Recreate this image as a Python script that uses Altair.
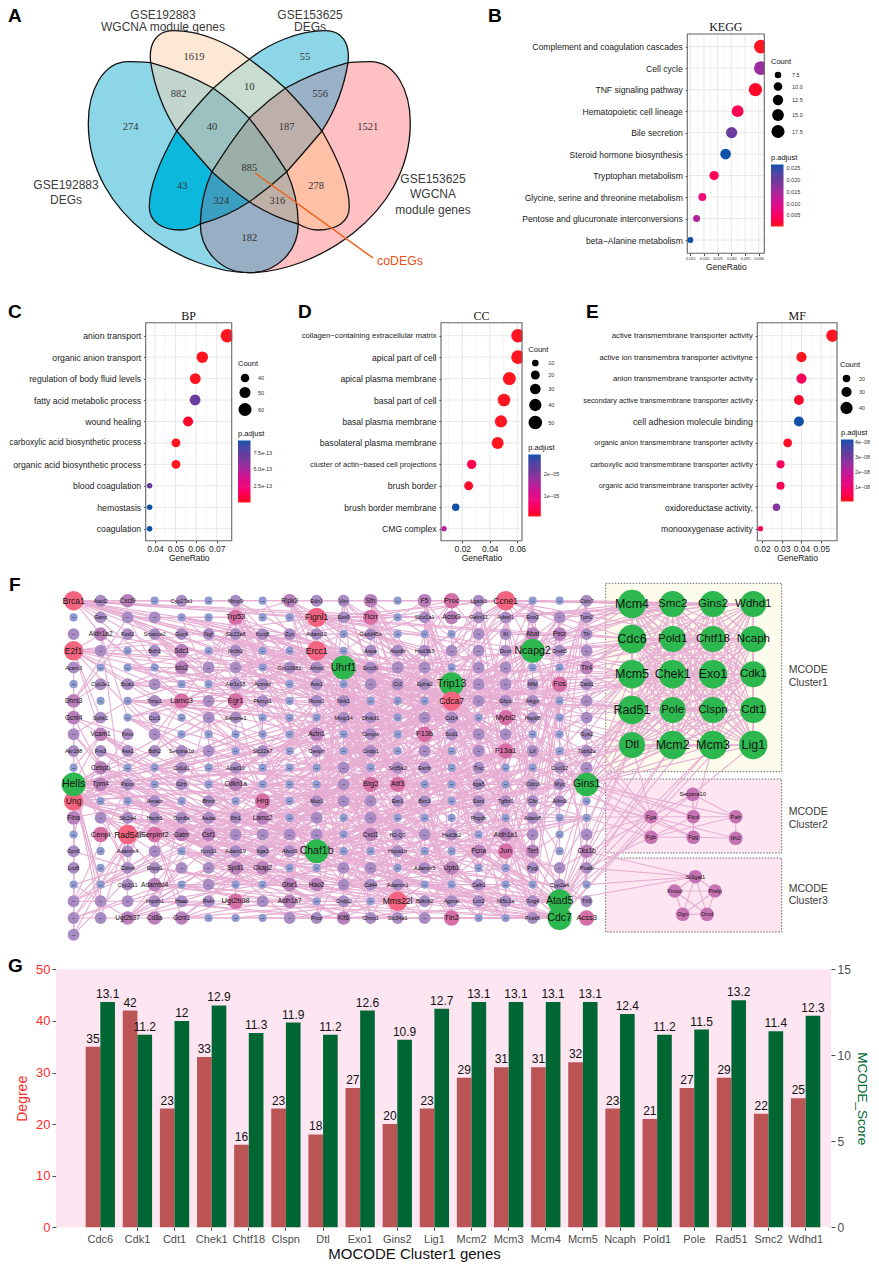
import itertools
import math
import altair as alt
import pandas as pd

W, H = 863, 1255
SANS, SERIF = "Liberation Sans", "Liberation Serif"
PADJ_COLORS = ["#ff1a1a", "#f0107a", "#b81f9a", "#6a3a9c", "#0a50aa"]

# ---------- dot plot data ----------
KEGG_TERMS = ["Complement and coagulation cascades", "Cell cycle", "TNF signaling pathway", "Hematopoietic cell lineage",
              "Bile secretion", "Steroid hormone biosynthesis", "Tryptophan metabolism",
              "Glycine, serine and threonine metabolism ", "Pentose and glucuronate interconversions", "beta\u2212Alanine metabolism"]
KEGG_RATIO = [0.0408, 0.0408, 0.0388, 0.0323, 0.0301, 0.0279, 0.0237, 0.0194, 0.0173, 0.0150]
KEGG_COUNT = [19, 19, 18, 15, 14, 13, 11, 9, 8, 7]
KEGG_PADJ = [0.0004, 0.016, 0.001, 0.0035, 0.020, 0.0267, 0.004, 0.0065, 0.014, 0.0267]

BP_TERMS = ["anion transport", "organic anion transport", "regulation of body fluid levels", "fatty acid metabolic process",
            "wound healing", "carboxylic acid biosynthetic process", "organic acid biosynthetic process",
            "blood coagulation", "hemostasis", "coagulation"]
BP_RATIO = [0.0752, 0.0630, 0.0596, 0.0595, 0.0561, 0.0502, 0.0502, 0.0374, 0.0374, 0.0374]
BP_COUNT = [62, 52, 49, 49, 46, 41, 41, 31, 31, 31]
BP_PADJ = [0.2e-13, 0.2e-13, 0.2e-13, 7.0e-13, 0.4e-13, 0.2e-13, 0.2e-13, 7.2e-13, 9.3e-13, 9.3e-13]

CC_TERMS = ["collagen\u2212containing extracellular matrix", "apical part of cell", "apical plasma membrane", "basal part of cell",
            "basal plasma membrane", "basolateral plasma membrane", "cluster of actin\u2212based cell projections",
            "brush border", "brush border membrane", "CMG complex"]
CC_RATIO = [0.0605, 0.0605, 0.0542, 0.0503, 0.0481, 0.0457, 0.0268, 0.0246, 0.0152, 0.0067]
CC_COUNT = [50, 50, 45, 42, 40, 38, 22, 20, 13, 5]
CC_PADJ = [0.05e-5, 0.05e-5, 0.05e-5, 0.05e-5, 0.05e-5, 0.05e-5, 0.35e-5, 0.1e-5, 2.9e-5, 1.5e-5]

MF_TERMS = ["active transmembrane transporter activity", "active ion transmembra transporter activityne",
            "anion transmembrane transporter activity", "secondary active transmembrane transporter activity",
            "cell adhesion molecule binding", "organic anion transmembrane transporter activity",
            "carboxylic acid transmembrane transporter activity", "organic acid transmembrane transporter activity",
            "oxidoreductase activity,", "monooxygenase activity"]
MF_RATIO = [0.0557, 0.0400, 0.0400, 0.0387, 0.0387, 0.0330, 0.0294, 0.0294, 0.0273, 0.0192]
MF_COUNT = [41, 30, 30, 29, 29, 24, 22, 22, 20, 14]
MF_PADJ = [0.1e-8, 0.1e-8, 0.7e-8, 0.2e-8, 4.15e-8, 0.15e-8, 0.7e-8, 0.6e-8, 2.8e-8, 0.7e-8]

# per-term label sizes (the reference squeezes some labels)
KEGG_FONT = [8.6] * 10
BP_FONT = [8.7, 8.7, 8.7, 8.7, 8.7, 8.3, 8.7, 8.7, 8.7, 8.7]
CC_FONT = [7.7, 8.6, 8.6, 8.6, 8.6, 8.7, 7.6, 8.6, 8.6, 8.6]
MF_FONT = [7.7, 7.7, 7.7, 7.3, 8.8, 7.3, 7.3, 7.3, 8.5, 8.6]

# ---------- bar chart data ----------
G_GENES = ["Cdc6", "Cdk1", "Cdt1", "Chek1", "Chtf18", "Clspn", "Dtl", "Exo1", "Gins2", "Lig1", "Mcm2", "Mcm3", "Mcm4",
           "Mcm5", "Ncaph", "Pold1", "Pole", "Rad51", "Smc2", "Wdhd1"]
G_DEGREE = [35, 42, 23, 33, 16, 23, 18, 27, 20, 23, 29, 31, 31, 32, 23, 21, 27, 29, 22, 25]
G_SCORE = [13.1, 11.2, 12, 12.9, 11.3, 11.9, 11.2, 12.6, 10.9, 12.7, 13.1, 13.1, 13.1, 13.1, 12.4, 11.2, 11.5, 13.2, 11.4, 12.3]

# ---------- venn text ----------
VENN_COUNTS = ["1619", "55", "882", "10", "556", "274", "40", "187", "1521", "885", "43", "278", "324", "316", "182"]
VENN_COUNT_X = [194, 305, 178.7, 249.3, 320, 130.7, 212, 286.7, 367.7, 249.3, 182.3, 316, 221.3, 277.3, 249.3]
VENN_COUNT_Y = [56.7, 56.7, 93.7, 86.7, 93.7, 127.3, 127.3, 127.3, 127.3, 167.7, 186, 186, 201, 201, 238]
VENN_LABELS = ["GSE192883", "WGCNA module genes", "GSE153625", "DEGs", "GSE192883", "DEGs", "GSE153625", "WGCNA", "module genes"]
VENN_LABEL_X = [163, 163, 310, 310, 66, 66, 433, 433, 433]
VENN_LABEL_Y = [14.5, 26.5, 14.5, 27, 185, 200, 179, 194, 210]

# ---------- network ----------
NET_ROWS = [
    "Brca1/r Atad2/p Cxcl9/m b Cyp27a1/p b Mmp9/p b Ripk3/m Edn1/p Vim/p Sfn/m b F5/m Proc/k Lgals3/p Ccne1/r b b Cldn7/p",
    "b Gamt/p p p b b Trp53/k b b Fignl1/r Sox9/p Ticrr/k b Slco1a1/p Acox3/m Galnt11/p Adssl1/p Eno2/p p Tpm2/p",
    "p Aldh1a2/m Fosl2/p Smarca2/p Gpc4/p Ngf/p Slc22a8/p Kcnj8/p Zyx/p Adam12/p b Gadd45a/p b b b p Kl/p Abat/m Pecr/m Tfr/p",
    "E2f1/r p b Bdh1/p Sdc1/m b Nr0b2/p b b Ercc1/r b Aspa/p Aspdh/p Hsd3b3/p p p Dcxr/p Ncapg2/g Creb5/p p",
    "Acsm3/p b b b Ido2/m p p b Gm10681/p Afmid/p Uhrf1/g Ercc6l/p p p b p p b b Tlr4/m",
    "b Cyp2e1/p Bcat1/p p b b Akr1c18/p Acmsd/p b Aox1/p b p Cr2/p Epha2/p Trip13/g p p Mlkl/p Fos/k Cald1/p",
    "Dhrs3/m b b Timp1/p Lamc3/k p Egr1/k Pkmyt1/p b Runx1/p Ntrk1/p b b b Cdca7/r p G6pc/p A4gnt/p b p",
    "Gcnt4/m Sphk1/p b Ccr1/p b p Serpine1/p b b b Mmp14/p Dhtkd1/p b p Cd14/p b Mybl2/k Hspb8/p b p",
    "p Vcam1/m Kmo/p p b b b b b Actn1/m b Cenpw/p b F13b/k Scd1/p p p b b Gys2/p",
    "Akr1b8/p Frs3/p Ass1/p Bdh2/p Serpina1d/p p b Slc22a7/p b Cenph/p b Cndp1/p b p b p F13a1/k Lif/p b Tubb2a/p",
    "b Cebpb/m b b Cd1d1/p b Acad10/p b b b p b Srd5a2/p Esrrb/p b Tnc/p b b Cxcl12/p p",
    "Hells/g Tpm4/m Pipox/p b Il2rb/p b Cdkn1a/m b b b p Btg2/k Atf3/k b b Itga5/p b Cldn3/p Myc/p Gins1/g",
    "Ung/r b b Amacr/p b Bhmt/p b Hrg/k b Muc1/p p p Esr1/p Birc3/p b Sord/p Tgfbr1/p Cftr/p Aifm3/p b",
    "Flna/m p Slc2a4/p Hspb1/p Opn6a/p Aadat/p Ifih1/p Lamc2/m b p b p b b b Phgdh/p b Adam8/p b b",
    "b Cenpi/k Rad54l/r Serpinf2/k Gatm/m Csf1/m p p p p b Cxcl1/m H2-Q7/p p Hsd3b2/p b Aldh1a1/m p b p",
    "Gpx6/p b Adamts4/p p b Kcnj11/p Adam19/p Itga3/p Abcc9/p Chaf1b/g b b Hspa1b/p b b Pcna/m Jun/k Tert/m b Cks1b/m",
    "Lrp8/p b Cldn4/p Enpp1/p p p Spdl1/m Ckap2/m b b p p b Adamts5/p Upb1/m b b Pygl/p p Pvalb/p",
    "b b Cyp2j11/p Adamtsl4/m b p b b Gbe1/m Hao2/m p Cd44/p Adamts1/p b b Calb1/p b b Cyp2a4/p b",
    "p p p Impdh1/p Haao/p Reln/p Ugt2b38/k p Aldh1a7/m b Cndp2/p b Mms22l/r Bdkrb2/p Agmat/p Lcn2/p Nt5c1a/p Gng4/p Atad5/g Tlr9/p",
    "p p Ugt2b37/m Cd8a/m Gcnt1/m b b b p Proz/p Klf6/m Chrm1/p Slc34a1/p p Tln2/k b b Pcsk6/p Cdc7/g Acss3/k",
    "p",
]
CLUSTER1 = ["Mcm4/L Smc2/l Gins2/l Wdhd1/l", "Cdc6/L Pold1/l Chtf18/l Ncaph/l", "Mcm5/L Chek1/L Exo1/L Cdk1/l",
            "Rad51/L Pole/l Clspn/l Cdt1/l", "Dtl/l Mcm2/L Mcm3/L Lig1/L"]
CLUSTER1_X = [632, 672.7, 713, 753.3]
CLUSTER1_Y = [604, 639, 674.3, 710, 745]
CLUSTER23 = [("6a", "Serpina10", 692.7, 794.3), ("6b", "Fga", 651, 816.7), ("6c", "Ftcd", 693.3, 816.7), ("6d", "Pah", 735.7, 816.7),
             ("6e", "Fgb", 651, 837.3), ("6f", "Fgg", 693.3, 837.3), ("6g", "Ith2", 735.7, 838.3),
             ("7a", "St3gal1", 695.3, 876.7), ("7b", "Fmod", 674.7, 891), ("7c", "Prelp", 715, 891),
             ("7d", "Ogn", 682.7, 914.3), ("7e", "Omd", 707, 914.3)]
NET_LINKS = """
aa: ag bj cf ci dj ek bl aq go fe dk ej bn cr gj hn bc cb kl at
da: bj dj ek go fo ci hg cb hb ib gi li mk ng
la: ho fo ek dj pj go lm ls ok ma kb ib nb qd pf rb sb tb mk jh
ma: dj go fo pj ok ni li kg ig lk qh rj sn nc sa ta ua
bj: go ek dj hn fp aq dr cl ck fo iq fn
dj: go fo ek ep gq ho iq lm ll pj kk mo nm
ek: fo go dr ho iq ll lm pj ok gj hg jm ml
aq: dr fo go ds ct bs cq fl dn en gk hm iq
dr: fo go ht et cs gq is jq lt ki fh
fo: go gh hk ip kp lt jt mq ni ps qk
go: ip hn iq jq lt ls mm pj kj li
pj: ll lm ok kk nn ph rk sm tn qm on
lt: kr mr nt pq qs ss ls ks jr ir gr
ss: ts qs rq pq nq rn sk sj tk rh qg oo
ts: tn to sm sh th ri qh pm ql tc te sd
sm: pj lk ml qg on rl tj tg sg
oc: la lt pj ll ml sc tb rb ok oj
od: ll ml rd se qf ph te sj ki
mh: ll pj lm gg ok ho ig
ll: lm ok hq gk iq ko mp
lm: hq mq pq jq gq ip ko
pq: hq nq ni ko jq kt mr
hq: jq dj gq fs kt it
jq: in ip kn ho kt
in: gg ho gk kk nm
gg: ge bg hg ig di ch ij
ge: bg cb di gc jd hc id ck
bg: ag ai bc be cg eh fg gi hk ef jl nn mq ok hr
bl: ak cl dl en fm gn bj ao bp
ao: bo cp cn dn eo an al
to: tn so qn ln mo rn qo
ip: ho kr ls mq gl dn ej jk
kk: hh gj fl ln mk ll om
ho: gh fk el dm fq hm ii jl ks
ik: gi ej ho ln kj mm fn om qn tm rr
mo: kq hr nr lq jn om oq qr
kp: gs hl ir lr ms nq
ni: kg ih lf jm pk on qj nn
rk: nm ol pn qq sp tl
qm: ms on rs ss lm
hm: gk ej dl cn ep fi hk
fm: em gn hr dn cp bi jq
ci: cn ah dk bj el fg
cl: bn an dn ej eq fq gq
cr: br ar cs dq ep fp go
gl: fj ek hj ij mg kh li
fh: ec cg gj kh jj ma
tc: mh nf qe ra oh ph rg sf
te: qj nj ph rl sl
rb: ma la ng pf mi sb
sa: ma nd pe lc ki sh
ta: oc nd re qf tc ra
ua: ta sa pd qa ra rb
sd: oh pg nf tk rh tj
qc: nb lc kd ja oe ra
na: ia ka ic md oa pa qa ra sa
oa: ma la jb
pa: ma la qc na
ga: ea fb ha ia bc cc
ha: ga fa ja kb jc ic
ia: ka ja gc mc nd
ka: ja ma ib
ag: td sg qi lj ip oo jq tn rk
ai: rk om lp hr jm qq nn go tl
ak: pl ro si tj mn kr ho
al: rm to nr kp in fq lm oq
an: qp tq rr mp ks hn
ap: ss ro mq hq in ok qn
ar: qr lq hl gn ip os tp
at: rt nr is gp ht kr ms qq
bn: lo jn kq np qo sr hs
bq: gl jp kl mr ot nq ir
bs: hn fq jo kr lo nr ps
dk: kk hl fm in np ro tm
dp: hk ln jq mn oq kq rr
en: jk kp mo ph qr nm gq
eq: kk nm mr in ho pr
es: ko kq mn jn hp rq
fk: kl mj on rm iq gr
fq: kn mk ol sq jr lr
fs: kp nn lq pp sr rt
gk: jn mn op tl qp lq
gs: jk mr qp tr os pr
hk: kn mp nk pl ri sl
hp: lk mq or rr tk
ir: ln mo ok qq pj kk
jk: on rq tq lr
jo: nm om rp kk qm mp
jt: ln nn rk qo tr tp
kr: nq qp pj ok ln ml
ko: nr pp qn rs tr lr
kq: ok om nn ro
lk: om pl rr tj sp
ln: qn nm rl so pr
lq: np sq qr tq rm
ls: oj nn qm pm rp
mk: qn pr tp st
mm: rr pn nt tq
mp: qr rs sl ts
nk: rk qs ss tq
nn: rr ql qs tl
nq: rl qq tr ss
nt: qq oq rk qj
ok: qm sn tk rp
on: qo ss tq pr
oq: st tr sn rk
pk: sl rr ts tm
pn: sq tp rm qm
pp: sr tk ts rl
qk: tj rl sq ts
qo: sm tn tq
qq: rr sq tp st
rn: ts tq sm
rq: tl sn tr
kd: ho gj fm ln on ql hk
kf: hn gm jl ll on qn
kh: fp dm el jn mk pm qj
kj: gp en dp ij mq om
lf: hk fm en ml oh ql rj
lh: fo gj hn kn mm nj oj
mf: gj hk jm lm rn
mj: gq jo fr kp ql on
nf: go kn ml oj qq
nh: go fo kq ms qn
ng: hj ip kk pk rl
of: gk hm jn kp qm sm
oh: fo go lm ls rn sp
oj: hn kq nr pq qo
pf: lk kj gn fn jp ol
ph: gq hn kk lm pr nt
qf: gp jn lq or sq
qh: hn kk mn nq sn
rf: ho jq lk oo pq
rh: kk lo mq nq rr
gc: di gf hi in jh lf
gd: fk go hj ij kl
fc: gi ho em dk ch gn
ec: gg fi hj en ap
eg: gk hn dj fi kj
ei: hm ho jk gf fo
eh: gq ip jq bj
dg: gl ho im el kk
di: fk go fo jm kq
cf: gj go ih ej fo
ch: fq go ho ip ek
bc: hm ed gg fh jk
be: ff gi dk el ho
cd: ff gg ig hl kk
cb: ei hc hf oc
hc: kj mi on ql gf
hf: kj lh of pg ql
ib: mh nf oh pj qi
jb: lf mh oi pg qh rj
kb: mg nf oe qi ro
lb: oh pg qi sj tk
lc: oi ph qk rj ti
mc: nh pg qk sj
nb: oi pe qi rf
nc: oh pj ql sl tj
oe: qg rh rn sk tk
pe: qh qk ro rg tk tm
qd: rh sk sm
re: ro sj tj
rd: si rj tm sm
1a: at bt bq ct ar cs bs dr
1b: aq bq dr fo dq et
1c: bq cs ao aq bo
1d: at aq ao bs
2a: et fs dr gt go ho bj ct aq
2b: dr fo hs lt go cq
2c: ft dr fo aq
2d: dr lt et
3a: ek dr fo go ht lt is js bj hs it
3b: go lt dr pj gs ho
3c: fo lt dr go
3d: go jt ek
4a: lt go fo hs jt kt dj ms ls ek ss
4b: lt fo dr ss pj
4c: lt ss go
4d: lt go ts
5a: lt ss ts la pj ok it fo qs 6b
5b: lt ss ts pj la ek
5c: lt ss ts la dj 6c
5d: ss lt
6b: ot lt jt ms nr qs it 6c 6e 6f 6a
6c: 6a 6d 6e 6f lt ks
6d: 6g 6a 6e lt
6e: 6f qt mr ks
6f: 6g 6a ls
6g: 6b
7a: 7b 7c 7d 7e pt qt rt ss
7b: 7c 7d 7e
7c: 7d 7e
7d: 7e
"""
CLUSTER_NAMES = ["MCODE", "Cluster1", "MCODE", "Cluster2", "MCODE", "Cluster3"]
CLUSTER_NAME_Y = [670, 682.7, 812, 825, 888.7, 901]
BOX_X0, BOX_X1 = 605.7, 781.7
BOX_Y0 = [583.3, 779, 858]
BOX_Y1 = [771.7, 853, 932]
NODE_COLORS = {"b": "#8f9bd0", "p": "#a98bc4", "m": "#b97fba", "k": "#d66fa6", "r": "#f2647f", "g": "#2db84f",
               "L": "#2db84f", "l": "#2db84f", "c": "#c672b2"}
NODE_RADIUS = {"b": 4.6, "p": 6.7, "m": 7.7, "k": 8.7, "r": 11, "g": 13.5, "L": 16, "l": 14.7, "c": 7.7}
NODE_FONT = {"b": 6, "p": 5.5, "m": 6.5, "k": 7.5, "r": 8.5, "g": 10.5, "L": 12.5, "l": 11.5, "c": 5.8}

PANEL_LETTERS = ["A", "B", "C", "D", "E", "F", "G"]
LETTER_X = [8, 488, 8, 298, 586, 9, 8]
LETTER_Y = [16, 16, 312, 312, 312, 585, 966]

# ---------- shared pixel scales for the schematic parts ----------
FX = alt.Scale(domain=[0, 879], range=[-8, 871], nice=False, zero=False)
FY = alt.Scale(domain=[0, 1271], range=[-8, 1263], nice=False, zero=False)


def X(f="x"):
    return alt.X(f"{f}:Q", scale=FX, axis=None)


def Y(f="y"):
    return alt.Y(f"{f}:Q", scale=FY, axis=None)


def text_layer(texts, xs, ys, font=SANS, size=10, color="#333333", weight="normal", align="center"):
    mark = dict(font=font, fontSize=size, color=color, fontWeight=weight, align=align, baseline="middle")
    return alt.Chart(pd.DataFrame({"t": texts, "x": xs, "y": ys})).mark_text(**mark).encode(x=X(), y=Y(), text="t:N")


def rect_layer(x0, x1, y0, y1, **mark):
    d = pd.DataFrame({"x": x0, "x2": x1, "y": y0, "y2": y1})
    return alt.Chart(d).mark_rect(**mark).encode(x=X(), x2="x2:Q", y=Y(), y2="y2:Q")


layers = []

# ---------- Panel A: Venn ----------
A = 748


def mp(chain):
    return [[(2 * A - p[0], p[1]) for p in seg] for seg in chain]


def rv(chain):
    return [seg[::-1] for seg in chain[::-1]]


def svg(*chains):
    segs = [s for c in chains for s in c]
    out = f"M{segs[0][0][0] / 3:.1f} {segs[0][0][1] / 3:.1f}"
    for s in segs:
        cmd = "Q" if len(s) == 3 else "C"
        out += cmd + " ".join(f"{p[0] / 3:.1f} {p[1] / 3:.1f}" for p in s[1:])
    return out + "Z"


P1, P2, P4, P8, P10, P13, P14 = (452, 188), (A, 178), (640, 265), (A, 355), (860, 515), (895, 672), (A, 818)
P6, P9, P11, P5, P7 = (530, 393), (636, 515), (A, 605), (856, 265), (966, 393)
L0 = [[P14, (560, 818), (265, 650), (265, 370)], [(265, 370), (265, 270), (310, 185), (385, 185)], [(385, 185), (410, 185), P1]]
L1 = [[P1, (550, 215), P4]]
L2 = [[P4, (697, 305), P8]]
L3 = [[P8, (808, 430), P10]]
L4 = [[P10, (893, 585), P13]]
L5 = [[P13, (895, 750), (835, 818), P14]]
T0 = [[P1, (445, 130), (470, 92), (520, 92)], [(520, 92), (600, 92), (690, 130), P2]]
T1 = [[P2, (805, 218), P5]]
T2 = [[P5, (915, 325), P7]]
T3 = [[P7, (1010, 470), (1048, 550), (1048, 620)], [(1048, 620), (1048, 665), (1010, 690), (955, 690)], [(955, 690), (925, 690), P13]]
T4 = [[P13, (815, 650), P11]]
T5 = [[P11, (690, 565), P9]]
T6 = [[P9, (585, 458), P6]]
T7 = [[P6, (470, 300), P1]]
LEFT = L0 + L1 + L2 + L3 + L4 + L5
TOP = T0 + T1 + T2 + T3 + T4 + T5 + T6 + T7
r882 = L1 + mp(T2) + T7
r40 = L2 + mp(L3) + T6 + rv(mp(T2))
r43 = rv(T6) + mp(L4) + rv(mp(T3))
r324 = rv(T5) + rv(mp(T4)) + rv(mp(L4))
venn_shapes = [
    ("left", svg(LEFT), "#8cd6e8"), ("right", svg(mp(LEFT)), "#ffc0c4"),
    ("top", svg(TOP), "#fde8d6"), ("topright", svg(mp(TOP)), "#8cd6e8"),
    ("r882", svg(r882), "#c3d5cf"), ("r10", svg(T1, mp(L2), rv(L2), rv(mp(T1))), "#c8dcd0"),
    ("r556", svg(mp(r882)), "#9ab2c8"), ("r40", svg(r40), "#9bc2c0"), ("r187", svg(mp(r40)), "#bdb0aa"),
    ("r885", svg(L3, rv(mp(T5)), T5, rv(mp(L3))), "#9bafa8"), ("r43", svg(r43), "#0cb8dc"),
    ("r278", svg(mp(r43)), "#ffc0a8"), ("r324", svg(r324), "#3a9fc0"), ("r316", svg(mp(r324)), "#bfb0a8"),
    ("r182", svg(mp(T4), rv(T4), L5, rv(mp(L5))), "#98aec4"),
]
names = [s[0] for s in venn_shapes]
paths = [s[1] for s in venn_shapes]
fills = [s[2] for s in venn_shapes]
venn_df = pd.DataFrame({"region": names, "x": 0, "y": 0})
layers.append(alt.Chart(venn_df).mark_point(filled=True, size=4, opacity=1, strokeWidth=0).encode(
    x=X(), y=Y(),
    shape=alt.Shape("region:N", scale=alt.Scale(domain=names, range=paths), legend=None),
    color=alt.Color("region:N", scale=alt.Scale(domain=names, range=fills), legend=None),
    order=alt.Order("idx:Q")).transform_calculate(idx="indexof(%r, datum.region)" % names))
outline_names = names[:4]
layers.append(alt.Chart(pd.DataFrame({"region": outline_names, "x": 0, "y": 0})).mark_point(
    filled=False, size=4, opacity=1, strokeWidth=1.3, color="#111111").encode(
    x=X(), y=Y(), shape=alt.Shape("region:N", scale=alt.Scale(domain=outline_names, range=paths[:4]), legend=None)))
layers.append(text_layer(VENN_COUNTS, VENN_COUNT_X, VENN_COUNT_Y, font=SERIF, size=10.5, color="#333333"))
layers.append(text_layer(VENN_LABELS, VENN_LABEL_X, VENN_LABEL_Y, size=12, color="#3a3a3a"))
layers.append(alt.Chart(pd.DataFrame({"x": [255], "x2": [373], "y": [173], "y2": [258]})).mark_rule(
    color="#f0601a", strokeWidth=1.5).encode(x=X(), x2="x2:Q", y=Y(), y2="y2:Q"))
layers.append(text_layer(["coDEGs"], [400], [261], size=12.3, color="#e8501a"))


# ---------- Panels B-E: dot plots ----------
def dotplot(title, terms, ratio, count, padj, fonts, box, term_y, dom, ticks, minor, fmt, cfg):
    x0, x1, y0, y1 = box
    xs = alt.Scale(domain=dom, range=[x0 - 8, x1 - 8], nice=False, zero=False)
    ys = alt.Scale(type="point", domain=terms, range=[term_y[0] - 8, term_y[1] - 8], padding=0)
    out = [rect_layer([x0], [x1], [y0], [y1], fill="white")]
    allx = pd.DataFrame({"g": minor, "y": y0, "y2": y1})
    out.append(alt.Chart(allx).mark_rule(color="#f0f0f0", strokeWidth=0.6).encode(
        x=alt.X("g:Q", scale=xs, axis=None), y=Y(), y2="y2:Q"))
    majx = pd.DataFrame({"g": ticks, "y": y0, "y2": y1})
    out.append(alt.Chart(majx).mark_rule(color="#e8e8e8", strokeWidth=1).encode(
        x=alt.X("g:Q", scale=xs, axis=None), y=Y(), y2="y2:Q"))
    hor = pd.DataFrame({"term": terms, "x": x0, "x2": x1})
    out.append(alt.Chart(hor).mark_rule(color="#e8e8e8", strokeWidth=1).encode(
        y=alt.Y("term:N", scale=ys, axis=None), x=X(), x2="x2:Q"))
    df = pd.DataFrame({"term": terms, "ratio": ratio, "count": count, "padj": padj})
    pmin, pmax = cfg["pdom"]
    stops = [pmin + (pmax - pmin) * i / 4 for i in range(5)]
    cx, cy = cfg["count_xy"]
    px, py = cfg["padj_xy"]
    font_expr = "indexof(%r, datum.value) < 0 ? 8 : %r[indexof(%r, datum.value)]" % (terms, fonts, terms)
    out.append(alt.Chart(df).mark_circle(opacity=1).encode(
        x=alt.X("ratio:Q", scale=xs, axis=alt.Axis(
            orient="bottom", offset=y1 - 8 - H, values=ticks, format=fmt, title="GeneRatio", grid=False, domain=False,
            titleFont=SANS, titleFontWeight="normal", titleFontSize=cfg.get("title_size", 8.5), titleColor="#111111",
            titlePadding=cfg.get("title_pad", 1), labelFont=SANS, labelFontSize=cfg["tick_size"], labelColor="#222222",
            labelPadding=1.5, tickSize=2, tickColor="#333333", labelOverlap=False, labelFlush=False)),
        y=alt.Y("term:N", scale=ys, axis=alt.Axis(
            orient="left", offset=-(x0 - 8), title=None, grid=False, domain=False, labelFont=SANS,
            labelFontSize={"expr": font_expr}, labelColor="#1a1a1a", labelLimit=300, labelPadding=3, tickSize=2,
            tickColor="#333333", labelOverlap=False)),
        size=alt.Size("count:Q", scale=alt.Scale(domain=cfg["cdom"], range=cfg["srange"], zero=False), legend=alt.Legend(
            title="Count", orient="none", legendX=cx - 8, legendY=cy - 8, values=cfg["cvals"], format=cfg.get("cfmt", "d"),
            titleFont=SANS, titleFontWeight="normal", titleFontSize=7.5, titleColor="#111111", titlePadding=6, labelFont=SANS,
            labelFontSize=cfg["leg_size"], labelColor="#333333", symbolFillColor="#000000", symbolStrokeColor="#000000",
            symbolOpacity=1, symbolStrokeWidth=0, symbolType="circle", rowPadding=cfg.get("row_pad", 3.5), labelOffset=cfg.get("lab_off", 6))),
        color=alt.Color("padj:Q", scale=alt.Scale(domain=stops, range=PADJ_COLORS), legend=alt.Legend(
            title="p.adjust", orient="none", legendX=px - 8, legendY=py - 8, type="gradient", direction="vertical",
            values=cfg["pvals"], gradientLength=62, gradientThickness=12.5, titleFont=SANS, titleFontWeight="normal",
            titleFontSize=7.5, titleColor="#111111", titlePadding=3, labelFont=SANS, labelFontSize=cfg["leg_size"],
            labelColor="#333333", labelOffset=cfg.get("padj_off", 3), labelOverlap=False, labelExpr=cfg["pexpr"])),
    ))
    out.append(rect_layer([x1 + 0.5], [x1 + cfg.get("mask", 6)], [y0], [y1], fill="white"))
    out.append(alt.Chart(pd.DataFrame({"x": [x0], "x2": [x1], "y": [y0], "y2": [y1]})).mark_rect(
        fillOpacity=0, stroke="#666666", strokeWidth=1.1).encode(x=X(), x2="x2:Q", y=Y(), y2="y2:Q"))
    out.append(text_layer([title], [(x0 + x1) / 2], [y0 - 7], font=SERIF, size=12, color="#111111"))
    return out


YT = (335.7, 528.7)
layers += dotplot("KEGG", KEGG_TERMS, KEGG_RATIO, KEGG_COUNT, KEGG_PADJ, KEGG_FONT, (687.3, 764.3, 34, 253.3), (46.7, 240),
                  [0.0139, 0.04205], [0.015, 0.02, 0.025, 0.03, 0.035, 0.04],
                  [0.0175, 0.0225, 0.0275, 0.0325, 0.0375], ".3f",
                  dict(cdom=[7, 19], srange=[36, 190], cvals=[7.5, 10, 12.5, 15, 17.5], cfmt=".1f", pdom=(0.0002, 0.0267),
                       pvals=[0.005, 0.01, 0.015, 0.02, 0.025], pexpr="format(datum.value,'.3f')", count_xy=(771, 58),
                       padj_xy=(771, 154), tick_size=3.8, leg_size=5.5, title_size=8.5, title_pad=2, lab_off=7))
layers += dotplot("BP", BP_TERMS, BP_RATIO, BP_COUNT, BP_PADJ, BP_FONT, (145.7, 231.7, 322.7, 540.7), YT,
                  [0.0355, 0.0773], [0.04, 0.05, 0.06, 0.07], [0.045, 0.055, 0.065, 0.075], ".2f",
                  dict(cdom=[31, 62], srange=[30, 180], cvals=[40, 50, 60], pdom=(0.1e-13, 9.3e-13),
                       pvals=[2.5e-13, 5e-13, 7.5e-13], pexpr="format(datum.value,'.1e')", count_xy=(238, 360),
                       padj_xy=(238, 430), tick_size=8.5, leg_size=5.5, row_pad=4))
layers += dotplot("CC", CC_TERMS, CC_RATIO, CC_COUNT, CC_PADJ, CC_FONT, (441, 522, 322.7, 540.7), YT,
                  [0.0045, 0.0634], [0.02, 0.04, 0.06], [0.01, 0.03, 0.05], ".2f",
                  dict(cdom=[5, 50], srange=[28, 185], cvals=[10, 20, 30, 40, 50], pdom=(0.02e-5, 2.92e-5),
                       pvals=[1e-5, 2e-5], pexpr="replace(format(datum.value,'.0e'),'e-','e\u22120')", count_xy=(528.3, 346),
                       padj_xy=(528.3, 444), tick_size=8.5, leg_size=5.5, row_pad=4))
layers += dotplot("MF", MF_TERMS, MF_RATIO, MF_COUNT, MF_PADJ, MF_FONT, (757.3, 837, 322.7, 540.7), YT,
                  [0.0176, 0.058], [0.02, 0.03, 0.04, 0.05], [0.025, 0.035, 0.045, 0.055], ".2f",
                  dict(cdom=[14, 41], srange=[28, 155], cvals=[20, 30, 40], pdom=(0.06e-8, 4.17e-8),
                       pvals=[1e-8, 2e-8, 3e-8, 4e-8], pexpr="replace(format(datum.value,'.0e'),'e-','e\u22120')",
                       count_xy=(840, 361), padj_xy=(841, 429), tick_size=8.5, leg_size=5.3, mask=3, row_pad=4, padj_off=1.5))

# ---------- Panel F: network ----------
node_rows = []
for r, row in enumerate(NET_ROWS):
    for c, tok in enumerate(row.split()):
        label, typ = tok.split("/") if "/" in tok else ("\u2013", tok)
        node_rows.append((chr(97 + r) + chr(97 + c), label, typ, 73.6 + 27 * c, 600.7 + 16.7 * r))
for r, row in enumerate(CLUSTER1):
    for c, tok in enumerate(row.split()):
        label, typ = tok.split("/")
        node_rows.append((str(r + 1) + "abcd"[c], label, typ, CLUSTER1_X[c], CLUSTER1_Y[r]))
for nid, label, x, y in CLUSTER23:
    node_rows.append((nid, label, "c", x, y))
node_rows.sort(key=lambda n: n[1] == "Hells")
pos = {n[0]: (n[3], n[4]) for n in node_rows}

edges = []
for line in NET_LINKS.strip().splitlines():
    hub, targets = line.split(":")
    edges += [(hub, t) for t in targets.split()]
clu1 = [k for k in pos if k[0] in "12345"]
edges += list(itertools.combinations(clu1, 2))
edges = [e for e in edges if e[0] in pos and e[1] in pos]
edge_df = pd.DataFrame({"x": [pos[a][0] for a, b in edges], "y": [pos[a][1] for a, b in edges],
                        "x2": [pos[b][0] for a, b in edges], "y2": [pos[b][1] for a, b in edges]})
node_df = pd.DataFrame(node_rows, columns=["id", "label", "type", "x", "y"])
node_df["area"] = [math.pi * NODE_RADIUS[t] ** 2 for t in node_df["type"]]
node_df["font"] = [NODE_FONT[t] for t in node_df["type"]]

box_df = pd.DataFrame({"x": BOX_X0, "x2": BOX_X1, "y": BOX_Y0, "y2": BOX_Y1, "c": ["a", "b", "c"]})
layers.append(alt.Chart(box_df).mark_rect(stroke="#444444", strokeWidth=0.8, strokeDash=[1.5, 1.5], opacity=1).encode(
    x=X(), x2="x2:Q", y=Y(), y2="y2:Q",
    color=alt.Color("c:N", scale=alt.Scale(domain=["a", "b", "c"], range=["#fdfbec", "#fde6f2", "#fde6f2"]), legend=None)))
layers.append(alt.Chart(edge_df).mark_rule(color="#e7aed3", strokeWidth=1.1).encode(x=X(), x2="x2:Q", y=Y(), y2="y2:Q"))
layers.append(alt.Chart(node_df).mark_circle(opacity=1).encode(
    x=X(), y=Y(), size=alt.Size("area:Q", scale=None),
    color=alt.Color("type:N", scale=alt.Scale(domain=list(NODE_COLORS), range=list(NODE_COLORS.values())), legend=None)))
layers.append(alt.Chart(node_df).mark_text(font=SANS, color="#141414", baseline="middle", align="center").encode(
    x=X(), y=Y(), text="label:N", size=alt.Size("font:Q", scale=None)))
layers.append(text_layer(CLUSTER_NAMES, [788.7] * 6, CLUSTER_NAME_Y, size=10.5, color="#3a3a3a", align="left"))

# ---------- Panel G: bars ----------
gx = alt.Scale(type="band", domain=G_GENES, range=[81.74 - 8, 824.2 - 8], paddingInner=0.21, paddingOuter=0.105)
g_df = pd.DataFrame({"gene": G_GENES, "degree": G_DEGREE, "score": G_SCORE})
layers.append(rect_layer([56], [831], [969.3], [1227.3], fill="#fde6f2"))
deg_y = alt.Scale(domain=[0, 50], range=[1227.3 - 8, 969.3 - 8], nice=False)
sco_y = alt.Scale(domain=[0, 15], range=[1227.3 - 8, 969.3 - 8], nice=False)
BW = 14.65
layers.append(alt.Chart(g_df).mark_bar(width=BW, xOffset=-BW / 2, color="#bb5555").encode(
    x=alt.X("gene:N", scale=gx, axis=alt.Axis(
        orient="bottom", offset=1227.3 - 8 - H, title="MOCODE Cluster1 genes", titleFont=SANS, titleFontWeight="normal",
        titleFontSize=15, titleColor="#111111", titleX=406, titleY=26.5, titleBaseline="middle", labelFont=SANS, labelFontSize=11,
        labelColor="#4d4d4d", labelAngle=0, labelPadding=3, tickSize=3, tickColor="#4d4d4d", domain=False, grid=False,
        labelOverlap=False)),
    y=alt.Y("degree:Q", scale=deg_y, axis=alt.Axis(
        orient="left", offset=-48, values=[0, 10, 20, 30, 40, 50], title="Degree", titleFont=SANS, titleFontWeight="normal",
        titleFontSize=14, titleColor="#ff2a2a", titlePadding=6, labelFont=SANS, labelFontSize=13, labelColor="#ff2a2a",
        labelPadding=2, tickSize=4, tickColor="#4d4d4d", domain=False, grid=False))))
layers.append(alt.Chart(g_df).mark_bar(width=BW, xOffset=BW / 2, color="#006633").encode(
    x=alt.X("gene:N", scale=gx, axis=None),
    y=alt.Y("score:Q", scale=sco_y, axis=alt.Axis(
        orient="right", offset=823 - W, values=[0, 5, 10, 15], title="MCODE_Score", titleFont=SANS, titleFontWeight="normal",
        titleFontSize=13.5, titleColor="#006633", titlePadding=4, labelFont=SANS, labelFontSize=12, labelColor="#4d4d4d",
        labelPadding=2, tickSize=4, tickColor="#4d4d4d", domain=False, grid=False))))
layers.append(alt.Chart(g_df).mark_text(font=SANS, fontSize=12, color="#111111", dx=-BW / 2, dy=-1, baseline="bottom").encode(
    x=alt.X("gene:N", scale=gx, axis=None), y=alt.Y("degree:Q", scale=deg_y, axis=None), text="degree:Q"))
layers.append(alt.Chart(g_df).mark_text(font=SANS, fontSize=12, color="#111111", dx=BW / 2, dy=-1, baseline="bottom").encode(
    x=alt.X("gene:N", scale=gx, axis=None), y=alt.Y("score:Q", scale=sco_y, axis=None), text="score:Q"))

layers.append(text_layer(PANEL_LETTERS, LETTER_X, LETTER_Y, size=19, color="#000000", weight="bold", align="left"))

chart = (alt.layer(*layers)
         .resolve_scale(x="independent", y="independent", color="independent", size="independent", shape="independent")
         .resolve_axis(x="independent", y="independent")
         .properties(width=W, height=H, padding=0, autosize=alt.AutoSizeParams(type="none"), background="white")
         .configure_view(stroke=None))
chart.save("out.html", embed_options={"renderer": "svg", "actions": False})
